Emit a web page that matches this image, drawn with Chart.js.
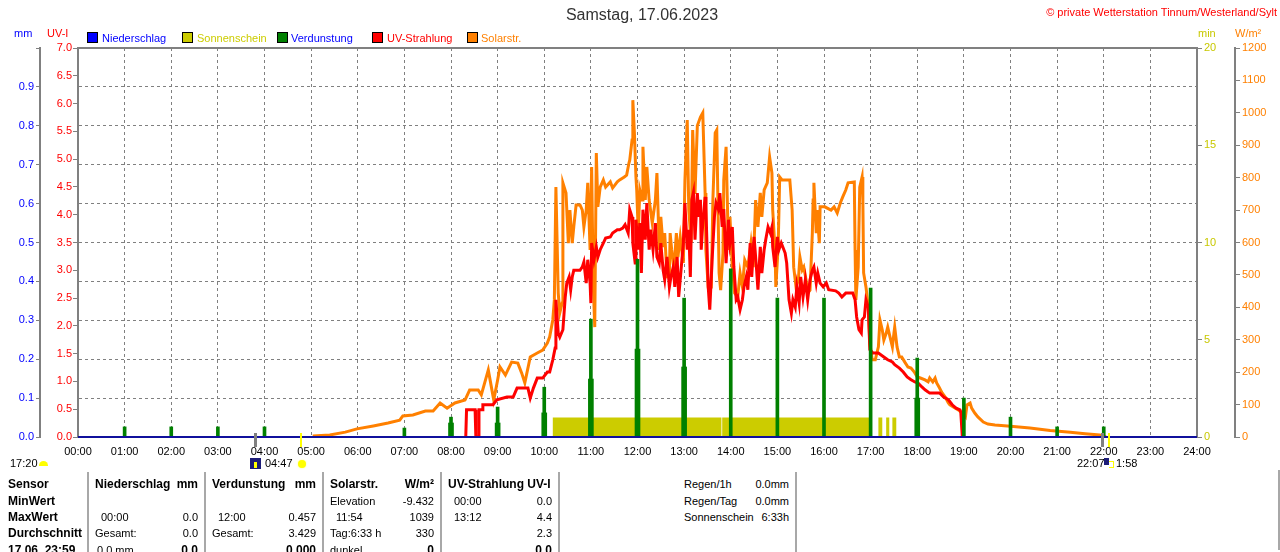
<!DOCTYPE html>
<html>
<head>
<meta charset="utf-8">
<script src="https://cdn.jsdelivr.net/npm/chart.js@4.4.1/dist/chart.umd.min.js"></script>
<style>
  body { margin: 0; background: #fff; }
  #wrap { position: relative; width: 1280px; height: 552px; overflow: hidden; background: #fff;
          font-family: 'Liberation Sans', Arial, sans-serif; font-size: 11px; color: #000; }
  #c { position: absolute; left: 0; top: 0; }
  .a { position: absolute; white-space: nowrap; line-height: 14px; }
  .b { font-weight: bold; font-size: 12px; }
  .sq { position: absolute; top: 32px; width: 9px; height: 9px; border: 1px solid #000; }
  .lg { position: absolute; top: 31px; line-height: 14px; white-space: nowrap; }
  .sep { position: absolute; top: 472px; width: 2px; height: 80px; background: #a8a8a8; }
  .r1 { top: 477px; } .r2 { top: 494px; } .r3 { top: 510px; } .r4 { top: 526px; } .r5 { top: 543px; }
</style>
</head>
<body>
<div id="wrap">
  <canvas id="c" width="1280" height="460"></canvas>

  <div class="a" style="left:0;width:1284px;top:6px;text-align:center;font-size:16px;line-height:18px;color:#333;">Samstag, 17.06.2023</div>
  <div class="a" style="right:3px;top:5px;color:#ff0000;">© private Wetterstation Tinnum/Westerland/Sylt</div>

  <div class="a" style="left:14px;top:26px;color:#0000ff;">mm</div>
  <div class="a" style="left:47px;top:26px;color:#ff0000;">UV-I</div>
  <div class="a" style="left:1198px;top:26px;color:#c8c800;">min</div>
  <div class="a" style="left:1235px;top:26px;color:#ff8000;">W/m²</div>

  <div class="sq" style="left:87px;background:#0000ff;"></div>
  <div class="lg" style="left:102px;color:#0000ff;">Niederschlag</div>
  <div class="sq" style="left:182px;background:#cccc00;"></div>
  <div class="lg" style="left:197px;color:#cccc00;">Sonnenschein</div>
  <div class="sq" style="left:277px;background:#008000;"></div>
  <div class="lg" style="left:291px;color:#0000ff;">Verdunstung</div>
  <div class="sq" style="left:372px;background:#ff0000;"></div>
  <div class="lg" style="left:387px;color:#ff0000;">UV-Strahlung</div>
  <div class="sq" style="left:467px;background:#ff8000;"></div>
  <div class="lg" style="left:481px;color:#ff8000;">Solarstr.</div>

  <div class="a" style="left:10px;top:456px;">17:20</div>
  <div style="position:absolute;left:39px;top:461px;width:9px;height:5px;background:#ffff00;border-radius:5px 5px 0 0;"></div>
  <div style="position:absolute;left:250px;top:458px;width:11px;height:11px;background:#1c1c78;"></div>
  <div style="position:absolute;left:254px;top:462px;width:3px;height:6px;background:#ffff00;"></div>
  <div class="a" style="left:265px;top:456px;">04:47</div>
  <div style="position:absolute;left:298px;top:460px;width:8px;height:8px;background:#ffff00;border-radius:50%;box-shadow:0 0 2px #ffff80;"></div>
  <div class="a" style="left:1077px;top:456px;">22:07</div>
  <div style="position:absolute;left:1104px;top:458px;width:5px;height:7px;background:#1c1c78;"></div>
  <div style="position:absolute;left:1109px;top:461px;width:4px;height:5px;border:1px solid #ffff00;border-left:none;"></div>
  <div class="a" style="left:1116px;top:456px;">1:58</div>

  <div class="sep" style="left:87px;"></div>
  <div class="sep" style="left:204px;"></div>
  <div class="sep" style="left:322px;"></div>
  <div class="sep" style="left:440px;"></div>
  <div class="sep" style="left:558px;"></div>
  <div class="sep" style="left:795px;"></div>
  <div class="sep" style="left:1278px;top:470px;"></div>

  <div class="a b r1" style="left:8px;">Sensor</div>
  <div class="a b r2" style="left:8px;">MinWert</div>
  <div class="a b r3" style="left:8px;">MaxWert</div>
  <div class="a b r4" style="left:8px;">Durchschnitt</div>
  <div class="a b r5" style="left:8px;">17.06. 23:59</div>

  <div class="a b r1" style="left:95px;">Niederschlag</div>
  <div class="a b r1" style="right:1082px;">mm</div>
  <div class="a r3" style="left:101px;">00:00</div>
  <div class="a r3" style="right:1082px;">0.0</div>
  <div class="a r4" style="left:95px;">Gesamt:</div>
  <div class="a r4" style="right:1082px;">0.0</div>
  <div class="a r5" style="left:97px;">0.0 mm</div>
  <div class="a b r5" style="right:1082px;">0.0</div>

  <div class="a b r1" style="left:212px;">Verdunstung</div>
  <div class="a b r1" style="right:964px;">mm</div>
  <div class="a r3" style="left:218px;">12:00</div>
  <div class="a r3" style="right:964px;">0.457</div>
  <div class="a r4" style="left:212px;">Gesamt:</div>
  <div class="a r4" style="right:964px;">3.429</div>
  <div class="a b r5" style="right:964px;">0.000</div>

  <div class="a b r1" style="left:330px;">Solarstr.</div>
  <div class="a b r1" style="right:846px;">W/m²</div>
  <div class="a r2" style="left:330px;">Elevation</div>
  <div class="a r2" style="right:846px;">-9.432</div>
  <div class="a r3" style="left:336px;">11:54</div>
  <div class="a r3" style="right:846px;">1039</div>
  <div class="a r4" style="left:330px;">Tag:6:33 h</div>
  <div class="a r4" style="right:846px;">330</div>
  <div class="a r5" style="left:330px;">dunkel</div>
  <div class="a b r5" style="right:846px;">0</div>

  <div class="a b r1" style="left:448px;">UV-Strahlung UV-I</div>
  <div class="a r2" style="left:454px;">00:00</div>
  <div class="a r2" style="right:728px;">0.0</div>
  <div class="a r3" style="left:454px;">13:12</div>
  <div class="a r3" style="right:728px;">4.4</div>
  <div class="a r4" style="right:728px;">2.3</div>
  <div class="a b r5" style="right:728px;">0.0</div>

  <div class="a r1" style="left:684px;">Regen/1h</div>
  <div class="a r1" style="right:491px;">0.0mm</div>
  <div class="a r2" style="left:684px;">Regen/Tag</div>
  <div class="a r2" style="right:491px;">0.0mm</div>
  <div class="a r3" style="left:684px;">Sonnenschein</div>
  <div class="a r3" style="right:491px;">6:33h</div>
</div>

<script>
const hourLabels = ['00:00','01:00','02:00','03:00','04:00','05:00','06:00','07:00','08:00','09:00','10:00','11:00','12:00',
  '13:00','14:00','15:00','16:00','17:00','18:00','19:00','20:00','21:00','22:00','23:00','24:00'];

// Niederschlag (mm), nothing fell
const rainTimes = ['00:00', '24:00'];
const rainMm = [0, 0];

// Verdunstung per hour (mm)
const evapTimes = ['01:00','02:00','03:00','04:00','07:00','08:00','09:00','10:00','11:00','12:00',
  '13:00','14:00','15:00','16:00','17:00','18:00','19:00','20:00','21:00','22:00'];
const evapMm = [0.026,0.026,0.026,0.026,0.023,0.051,0.077,0.128,0.303,0.457,
  0.357,0.432,0.357,0.357,0.383,0.203,0.1,0.051,0.026,0.026];
// the wider lower part of some evaporation bars
const evapLowTimes = ['08:00','09:00','10:00','11:00','12:00','13:00','18:00'];
const evapLowMm = [0.036,0.036,0.062,0.149,0.226,0.18,0.1];

// Sonnenschein (min per min)
const sunTimes = ['00:00','10:11','13:48','13:49','16:58','17:10','17:15','17:20','17:24','17:28','17:33','24:00'];
const sunMin = [0,1,0,1,0,1,0,1,0,1,0,0];

// Solarstrahlung (W/m2)
const solarTimes = [
  '05:02','05:24','05:44',
  '05:59','06:20','06:39','06:54','06:58',
  '07:11','07:27','07:37','07:46','07:55',
  '08:05','08:18','08:24','08:35','08:39','08:48','08:51','08:55',
  '09:00','09:03','09:10','09:18','09:26','09:31','09:35','09:42','09:51','09:58',
  '10:04','10:07','10:11','10:13','10:15','10:18','10:20','10:23','10:24','10:28',
  '10:31','10:33','10:36','10:38','10:41','10:46','10:49','10:51','10:54','10:56','10:59',
  '11:01','11:03','11:05','11:07','11:09','11:12','11:16','11:19','11:25','11:28',
  '11:34','11:37','11:43','11:46','11:49','11:50','11:53','11:54','11:56','11:58','11:59',
  '12:01','12:03','12:06','12:07','12:10','12:12','12:15','12:19','12:23','12:25','12:28',
  '12:30','12:33','12:35','12:38','12:41','12:42','12:44','12:47','12:50','12:52','12:55','12:59',
  '13:01','13:04','13:06','13:09','13:11','13:14','13:17','13:21','13:24','13:27','13:28',
  '13:31','13:35','13:37','13:40','13:42','13:45','13:47','13:50','13:51','13:54','13:57','13:59',
  '14:02','14:05','14:09','14:12','14:15','14:18','14:22','14:26','14:29',
  '14:32','14:35','14:38','14:40','14:43','14:47','14:50','14:53','14:54','14:57','14:58',
  '15:01','15:03','15:06','15:16','15:19','15:21','15:24','15:27','15:29',
  '15:32','15:34','15:37','15:39','15:42','15:45','15:46','15:47','15:50','15:51','15:54','15:55',
  '16:01','16:09','16:13','16:17','16:21','16:24','16:28',
  '16:31','16:39','16:40','16:41','16:44','16:46','16:49','16:50','16:51','16:54','16:57','16:59',
  '17:02','17:06','17:10','17:12','17:15','17:17','17:20','17:22','17:25','17:28',
  '17:30','17:31','17:34','17:37','17:40','17:44','17:48','17:52','17:56',
  '18:00','18:04','18:10','18:14','18:16','18:20','18:23','18:25','18:28','18:32','18:36','18:40','18:42','18:49','18:53','18:58',
  '19:02','19:04','19:08','19:10','19:14','19:18','19:25','19:31','19:40',
  '20:00','20:25','20:51','21:17','21:36','21:55','21:59','22:03'];
const solarWm2 = [
  3,6,15,
  25,34,43,52,65,
  68,80,80,105,89,
  105,114,145,145,130,207,167,114,
  176,216,191,231,228,197,167,247,259,268,
  290,309,361,423,771,444,383,413,784,753,
  598,700,598,648,716,716,700,648,700,784,577,
  833,475,339,876,710,771,793,771,787,768,
  787,793,802,808,845,854,916,1039,938,802,762,
  629,762,731,895,731,833,731,660,731,814,577,
  679,586,629,494,494,629,577,515,629,555,617,537,
  790,978,700,600,947,750,960,987,1000,753,577,
  463,463,731,938,947,506,453,567,793,895,577,679,
  524,444,432,506,463,546,524,598,524,
  731,648,753,679,762,784,864,814,700,577,463,
  586,802,793,793,700,524,463,484,555,
  515,524,484,444,453,629,731,784,629,700,598,710,
  710,700,710,691,722,740,762,
  784,787,577,423,524,771,802,731,506,463,401,290,
  238,238,278,361,330,299,320,339,308,278,
  320,339,278,247,247,231,216,213,201,
  185,182,176,170,182,170,182,167,154,136,123,105,99,89,83,74,
  62,99,105,89,74,62,46,40,37,
  33,28,20,15,10,6,3,0];

// UV-Strahlung (UV-I)
const uvTimes = [
  '08:19','08:20','08:31','08:32','08:35','08:36','08:40','08:41','08:54','08:59',
  '09:12','09:20','09:25','09:39','09:42','09:46','09:51','09:58',
  '10:04','10:07','10:11','10:14','10:15','10:18','10:20','10:24','10:27','10:29',
  '10:32','10:34','10:36','10:38','10:46','10:49','10:51','10:54','10:56','10:59',
  '11:00','11:01','11:04','11:07','11:09','11:12','11:16','11:19','11:25','11:28',
  '11:34','11:37','11:41','11:44','11:48','11:50','11:53','11:54','11:57','11:58',
  '12:01','12:03','12:05','12:07','12:10','12:12','12:15','12:17','12:20','12:23','12:25','12:28',
  '12:30','12:33','12:35','12:38','12:41','12:43','12:46','12:48','12:51','12:53','12:56','12:59',
  '13:01','13:04','13:06','13:08','13:10','13:12','13:14','13:17','13:19','13:21','13:22','13:24','13:27','13:28',
  '13:31','13:33','13:36','13:39','13:41','13:44','13:46','13:49','13:51','13:54','13:57','13:59',
  '14:02','14:04','14:07','14:09','14:12','14:15','14:17','14:20','14:22','14:25','14:27',
  '14:30','14:33','14:35','14:38','14:40','14:43','14:45','14:48','14:51','14:53','14:54','14:57',
  '15:00','15:02','15:05','15:07','15:10','15:12','15:15','15:18','15:20','15:23','15:25','15:28',
  '15:30','15:33','15:36','15:39','15:42','15:45','15:47','15:50','15:52','15:55','15:59',
  '16:03','16:06','16:15','16:19','16:23','16:28','16:37','16:40','16:42','16:45','16:48','16:49','16:52','16:54','16:57','16:59',
  '17:03','17:10','17:17','17:22','17:28','17:31','17:37','17:42','17:47','17:52','17:57',
  '18:01','18:06','18:10','18:16','18:29','18:34','18:40','18:45','18:50','18:55','18:56','18:58'];
const uvIndex = [
  0,0.49,0.49,0,0,0.49,0.49,0.58,0.58,0.67,
  0.72,0.72,0.88,0.88,0.7,0.88,1.06,1.06,
  1.17,1.17,1.39,1.6,2.47,1.87,1.8,1.93,2.52,2.77,
  2.88,2.65,2.88,3.0,3.0,3.06,3.15,2.77,3.19,2.77,
  2.41,3.49,3.19,3.42,3.24,3.37,3.49,3.58,3.6,3.67,
  3.73,3.73,3.76,3.82,3.67,4.09,3.96,3.49,3.13,3.91,
  3.37,3.85,2.95,4.09,3.55,4.21,3.37,3.73,3.37,3.85,3.24,3.13,
  3.49,3.0,2.83,3.24,2.7,2.88,3.06,2.7,3.24,2.52,3.0,3.49,
  4.21,3.37,3.73,2.88,4.27,4.4,3.55,4.39,3.96,4.27,3.37,3.85,4.32,4.14,
  2.7,2.29,3.19,3.96,4.21,4.1,4.39,3.78,4.1,3.13,3.91,3.49,
  3.78,3.06,2.47,2.52,2.29,2.47,2.7,2.88,2.65,3.49,2.88,
  3.6,3.06,2.65,3.42,2.95,3.37,3.55,3.78,3.67,3.78,3.42,3.06,
  3.6,3.37,3.49,3.42,3.31,3.13,2.47,2.23,2.47,2.34,2.7,2.41,
  2.88,2.52,2.83,2.47,2.83,3.0,3.06,2.77,2.95,2.77,2.7,
  2.77,2.65,2.63,2.59,2.52,2.59,2.59,2.47,2.16,1.93,1.87,2.11,2.16,2.47,2.34,1.57,
  1.51,1.51,1.44,1.39,1.35,1.3,1.24,1.17,1.08,1.03,0.99,
  0.97,0.9,0.85,0.79,0.79,0.72,0.67,0.58,0.52,0.49,0.45,0];

// dawn / sunrise / sunset / dusk marks under the time axis
const markTimes = ['03:48', '04:47', '21:58', '22:07'];
const markColors = ['#808080', '#ffff00', '#808080', '#ffff00'];

const toHours = t => { const [h, m] = t.split(':').map(Number); return h + m / 60; };
const pts = (times, vals) => times.map((t, i) => ({ x: toHours(t), y: vals[i] }));

Chart.defaults.font.family = "'Liberation Sans', Arial, sans-serif";
Chart.defaults.font.size = 11;

const frame = {
  id: 'frame',
  beforeDatasetsDraw(chart) {
    const { ctx, chartArea: a } = chart;
    ctx.save();
    ctx.strokeStyle = '#808080';
    ctx.lineWidth = 2;
    ctx.strokeRect(a.left, a.top, a.right - a.left, a.bottom - a.top);
    ctx.restore();
  },
  afterDraw(chart) {
    const { ctx, chartArea: a } = chart;
    const xs = chart.scales.x;
    ctx.save();
    markTimes.forEach((t, i) => {
      const x = Math.round(xs.getPixelForValue(toHours(t)));
      ctx.fillStyle = markColors[i];
      ctx.fillRect(x - 1, a.bottom - 4, markColors[i] === '#808080' ? 3 : 2, 14);
    });
    ctx.restore();
  }
};

const grey = '#808080';

new Chart(document.getElementById('c'), {
  type: 'line',
  data: {
    datasets: [
      { type: 'line', label: 'Niederschlag', data: pts(rainTimes, rainMm), yAxisID: 'yMM',
        borderColor: '#10109c', borderWidth: 2, pointRadius: 0, order: 0, clip: false },
      { type: 'bar', label: 'Verdunstung', data: pts(evapTimes, evapMm), yAxisID: 'yMM',
        backgroundColor: '#008000', borderWidth: 0, barThickness: 3, grouped: false, order: 1 },
      { type: 'bar', label: 'Verdunstung (unten)', data: pts(evapLowTimes, evapLowMm), yAxisID: 'yMM',
        backgroundColor: '#008000', borderWidth: 0, barThickness: 5, grouped: false, order: 1 },
      { type: 'line', label: 'UV-Strahlung', data: pts(uvTimes, uvIndex), yAxisID: 'yUV',
        borderColor: '#ff0000', borderWidth: 3, pointRadius: 0, tension: 0, order: 2 },
      { type: 'line', label: 'Solarstr.', data: pts(solarTimes, solarWm2), yAxisID: 'yW',
        borderColor: '#ff8000', borderWidth: 3, pointRadius: 0, tension: 0, order: 3 },
      { type: 'line', label: 'Sonnenschein', data: pts(sunTimes, sunMin), yAxisID: 'yMin',
        stepped: true, fill: 'origin', backgroundColor: '#cccc00', borderWidth: 0, pointRadius: 0, order: 4 }
    ]
  },
  options: {
    responsive: false,
    animation: false,
    events: [],
    layout: { padding: { top: 48, left: 0, right: 0, bottom: 0 } },
    plugins: { legend: { display: false }, tooltip: { enabled: false } },
    scales: {
      x: {
        type: 'linear', min: 0, max: 24, offset: false,
        ticks: { stepSize: 1, autoSkip: false, maxRotation: 0, padding: 8, color: '#000',
          callback: v => hourLabels[v] },
        grid: { color: grey, drawTicks: false, offset: false },
        border: { display: false, dash: [3, 3] },
        afterFit: s => { s.height = 23; }
      },
      yUV: {
        position: 'left', weight: 0, min: 0, max: 7,
        ticks: { stepSize: 0.5, autoSkip: false, color: '#ff0000', padding: 1, callback: v => v.toFixed(1) },
        grid: { drawOnChartArea: false, tickLength: 5, color: grey },
        border: { color: grey, width: 2 },
        afterFit: s => { s.width = 38; }
      },
      yMM: {
        position: 'left', weight: 1, min: 0, max: 1,
        ticks: { stepSize: 0.1, autoSkip: false, color: '#0000ff', padding: 2,
          callback: v => (v > 0.99 ? '' : v.toFixed(1)) },
        grid: { color: grey, tickLength: 4 },
        border: { color: grey, width: 2, dash: [3, 3] },
        afterFit: s => { s.width = 40; }
      },
      yMin: {
        position: 'right', weight: 0, min: 0, max: 20,
        ticks: { stepSize: 5, autoSkip: false, color: '#c8c800', padding: 2, callback: v => String(v) },
        grid: { drawOnChartArea: false, tickLength: 5, color: grey },
        border: { color: grey, width: 2 },
        afterFit: s => { s.width = 38; }
      },
      yW: {
        position: 'right', weight: 1, min: 0, max: 1200,
        ticks: { stepSize: 100, autoSkip: false, color: '#ff8000', padding: 2, callback: v => String(v) },
        grid: { drawOnChartArea: false, tickLength: 5, color: grey },
        border: { color: grey, width: 2 },
        afterFit: s => { s.width = 45; }
      }
    }
  },
  plugins: [frame]
});
</script>
</body>
</html>
